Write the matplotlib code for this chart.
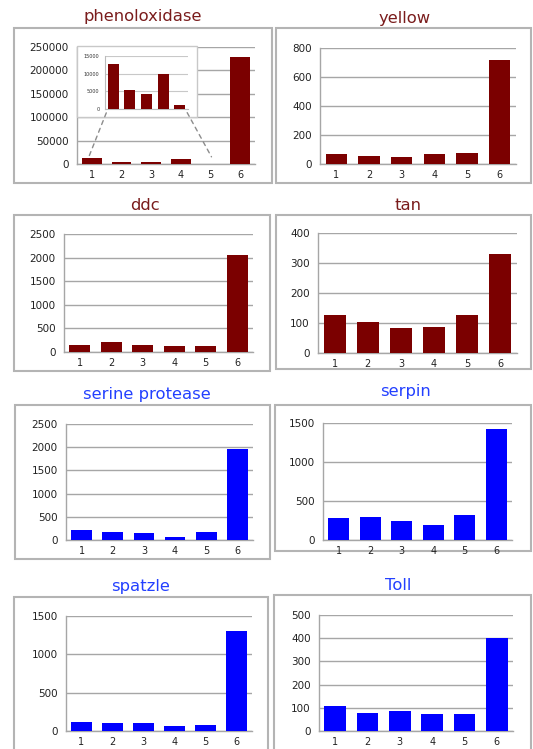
import matplotlib
matplotlib.use("Agg")
import matplotlib.pyplot as plt
from matplotlib.patches import Rectangle, ConnectionPatch

W, H = 533, 749

samples = [1, 2, 3, 4, 5, 6]

phenoloxidase = [12600, 5300, 4200, 9900, 1000, 228000]
yellow = [67, 58, 48, 67, 76, 719]
ddc = [156, 205, 149, 127, 127, 2054]
tan = [127, 105, 82, 87, 127, 331]
serine_protease = [208, 180, 151, 57, 180, 1968]
serpin = [279, 300, 244, 189, 317, 1419]
spatzle = [118, 100, 100, 65, 83, 1300]
toll = [107, 79, 86, 74, 74, 402]

RED = "#7b0000"
BLUE = "#0000ff"
RED_TITLE = "#7a1c1c"
BLUE_TITLE = "#2340ff"
GRID = "#a6a6a6"
FRAME = "#b4b4b4"
BAR_W = 0.66

fig = plt.figure(figsize=(W / 100, H / 100), dpi=100)
fig.patch.set_facecolor("white")


def px_rect(left, top, right, bottom):
    return [left / W, 1 - bottom / H, (right - left) / W, (bottom - top) / H]


def frame(left, top, right, bottom, color=FRAME, lw=1.5, z=0):
    x, y, w, h = px_rect(left, top, right, bottom)
    fig.patches.append(Rectangle((x, y), w, h, transform=fig.transFigure,
                                 facecolor="white", edgecolor=color,
                                 linewidth=lw, zorder=z))


def panel(vals, title, color, tcolor, plot, box, tpos, yticks, yfs=7.5):
    frame(*box)
    fig.text(tpos[0] / W, 1 - tpos[1] / H, title, color=tcolor,
             fontsize=11.8, ha="center", va="center")
    ax = fig.add_axes(px_rect(*plot))
    ax.set_zorder(1)
    ax.patch.set_alpha(0)
    ax.bar(samples, vals, width=BAR_W, color=color, zorder=3)
    ax.set_xlim(0.5, 6.5)
    ax.set_ylim(0, yticks[-1])
    ax.set_yticks(yticks)
    ax.set_yticklabels([str(t) for t in yticks])
    ax.set_xticks(samples)
    ax.yaxis.grid(True, color=GRID, linewidth=1.0, zorder=0)
    ax.set_axisbelow(True)
    for s in ("top", "right"):
        ax.spines[s].set_visible(False)
    for s in ("left", "bottom"):
        ax.spines[s].set_color(GRID)
        ax.spines[s].set_linewidth(1.0)
    ax.tick_params(axis="y", length=0, pad=6, labelsize=yfs, labelcolor="#222222")
    ax.tick_params(axis="x", length=0, pad=4, labelsize=7, labelcolor="#222222")
    return ax


# dopamine / melanin pathway genes
ax1 = panel(phenoloxidase, "phenoloxidase", RED, RED_TITLE,
            (77, 47, 255, 164), (14, 28, 272, 183), (143, 17),
            [0, 50000, 100000, 150000, 200000, 250000])
panel(yellow, "yellow", RED, RED_TITLE,
      (320, 48, 516, 164), (276, 28, 531, 183), (405, 19),
      [0, 200, 400, 600, 800])
panel(ddc, "ddc", RED, RED_TITLE,
      (64, 234, 253, 352), (14, 215, 270, 371), (145, 205),
      [0, 500, 1000, 1500, 2000, 2500])
panel(tan, "tan", RED, RED_TITLE,
      (318, 233, 517, 353), (276, 215, 531, 369), (408, 206),
      [0, 100, 200, 300, 400])

# Toll pathway genes
panel(serine_protease, "serine protease", BLUE, BLUE_TITLE,
      (66, 424, 253, 540), (15, 405, 270, 559), (147, 394),
      [0, 500, 1000, 1500, 2000, 2500])
panel(serpin, "serpin", BLUE, BLUE_TITLE,
      (323, 423, 512, 540), (275, 405, 531, 551), (405, 392),
      [0, 500, 1000, 1500])
panel(spatzle, "spatzle", BLUE, BLUE_TITLE,
      (66, 616, 252, 731), (14, 597, 268, 760), (140, 586),
      [0, 500, 1000, 1500])
panel(toll, "Toll", BLUE, BLUE_TITLE,
      (319, 615, 513, 731), (274, 595, 531, 760), (398, 585),
      [0, 100, 200, 300, 400, 500])

# zoomed inset of samples 1-5 for phenoloxidase
bx, by, bw, bh = px_rect(77, 46, 197, 117)
fig.patches.append(Rectangle((bx, by), bw, bh, transform=fig.transFigure,
                             facecolor="white", edgecolor="#c8c8c8",
                             linewidth=1.0, zorder=5))
ins = fig.add_axes(px_rect(105, 56, 188, 109))
ins.set_zorder(6)
ins.patch.set_alpha(0)
ins.bar(samples[:5], phenoloxidase[:5], width=BAR_W, color=RED, zorder=3)
ins.set_xlim(0.5, 5.5)
ins.set_ylim(0, 15000)
ins.set_yticks([0, 5000, 10000, 15000])
ins.set_xticks([])
ins.yaxis.grid(True, color="#c8c8c8", linewidth=0.8)
ins.set_axisbelow(True)
for s in ("top", "right"):
    ins.spines[s].set_visible(False)
for s in ("left", "bottom"):
    ins.spines[s].set_color("#bbbbbb")
    ins.spines[s].set_linewidth(0.8)
ins.tick_params(axis="y", length=0, pad=4, labelsize=3.5, labelcolor="#333333")

for xa, xb in ((1 - BAR_W / 2, 0.85), (5 + BAR_W / 2, 5.1)):
    con = ConnectionPatch(xyA=(xa, 0), coordsA=ins.transData,
                          xyB=(xb, phenoloxidase[0] * 0.6), coordsB=ax1.transData,
                          linestyle=(0, (3, 3)), color="#8c8c8c", linewidth=1.0,
                          shrinkA=3, shrinkB=3)
    con.set_zorder(7)
    fig.add_artist(con)

fig.savefig("out.png", dpi=100)
